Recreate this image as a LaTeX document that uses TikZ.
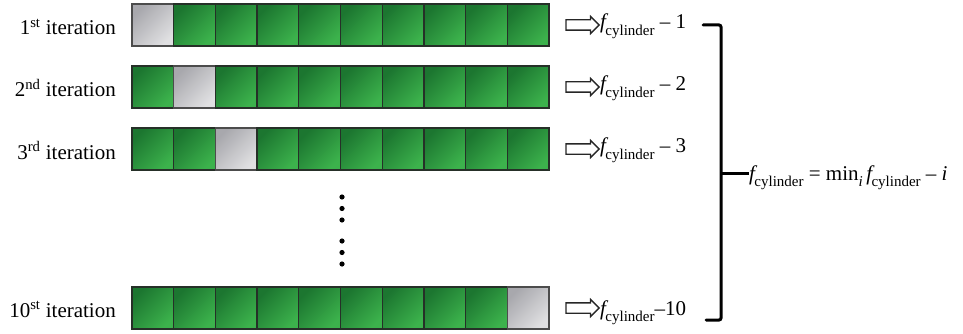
\documentclass[tikz,border=0pt]{standalone}
\usepackage{fontspec}
\setmainfont{Liberation Serif}
\usetikzlibrary{shapes.arrows}

\definecolor{gdark}{RGB}{28,118,48}
\definecolor{glight}{RGB}{60,178,76}
\definecolor{sdark}{RGB}{168,168,173}
\definecolor{slight}{RGB}{224,224,226}
\definecolor{cellline}{RGB}{38,48,40}

% f with the "cylinder" subscript, set in text mode
\newcommand{\fcyl}{\textit{f}\kern-3pt\raisebox{-0.32em}{\fontsize{15}{15}\selectfont cylinder}}
\newcommand{\nth}[2]{#1\textsuperscript{#2}}

\tikzset{
  cellbase/.style={draw=cellline, line width=1.3pt, inner sep=0pt,
    minimum width=41.7pt, minimum height=42pt},
  greencell/.style={cellbase, top color=gdark, bottom color=glight, shading angle=45},
  greycell/.style={cellbase, draw=black!70, top color=sdark, bottom color=slight, shading angle=45},
  rowlabel/.style={anchor=base east, inner sep=0pt, font=\fontsize{21}{21}\selectfont},
  flabel/.style={anchor=base west, inner sep=0pt, font=\fontsize{21}{21}\selectfont},
  hollowarrow/.style={single arrow, draw=black!85, fill=white, line width=1.3pt,
    minimum height=33pt, inner xsep=0pt, inner ysep=4.5pt,
    single arrow head extend=3.5pt, single arrow tip angle=90},
  brace/.style={line width=3pt, line cap=round, rounded corners=2pt},
  vdot/.style={fill=black, draw=none}
}

\begin{document}
\begin{tikzpicture}[x=1pt, y=-1pt]
  \useasboundingbox (0,0) rectangle (963,334);

  % one row of ten cells; row name, row centre y, column of the grey cell
  \foreach \r/\cy/\g in {1/25/1, 2/87/2, 3/149/3, 10/308/10}{
    \foreach \c in {1,...,10}{
      \pgfmathsetmacro{\cx}{132+41.7*(\c-0.5)}
      \ifnum\c=\g
        \node[greycell] (r\r c\c) at (\cx,\cy) {};
      \else
        \node[greencell] (r\r c\c) at (\cx,\cy) {};
      \fi
    }
    \node[hollowarrow] (a\r) at (580,\cy) {};
  }

  % iteration labels
  \node[rowlabel] (l1)  at (116,35)  {\nth{1}{st} iteration};
  \node[rowlabel] (l2)  at (116,97)  {\nth{2}{nd} iteration};
  \node[rowlabel] (l3)  at (116,159) {\nth{3}{rd} iteration};
  \node[rowlabel] (l10) at (116,317) {\nth{10}{st} iteration};

  % per-iteration results
  \node[flabel] (f1)  at (600,29)  {\fcyl\ -- 1};
  \node[flabel] (f2)  at (600,91)  {\fcyl\ -- 2};
  \node[flabel] (f3)  at (600,153) {\fcyl\ -- 3};
  \node[flabel] (f10) at (600,315) {\fcyl--10};

  % vertical ellipsis between the third and last rows
  \foreach \yy in {197,208.5,220,241,252.5,264}{
    \fill[vdot] (342,\yy) circle (2.6pt);
  }

  % bracket collecting the results
  \coordinate (bt) at (703,25);
  \coordinate (bb) at (706,320);
  \coordinate (bm) at (721,173);
  \draw[brace] (bt) -- (721,25) -- (721,320) -- (bb);
  \node[flabel] (res) at (749,180)
    {\fcyl\ = min\raisebox{-0.3em}{\fontsize{15}{15}\selectfont\textit{i}}\,\fcyl\ -- \textit{i}};
  \draw[line width=3pt] (bm) -- (res.west |- bm);
\end{tikzpicture}
\end{document}
